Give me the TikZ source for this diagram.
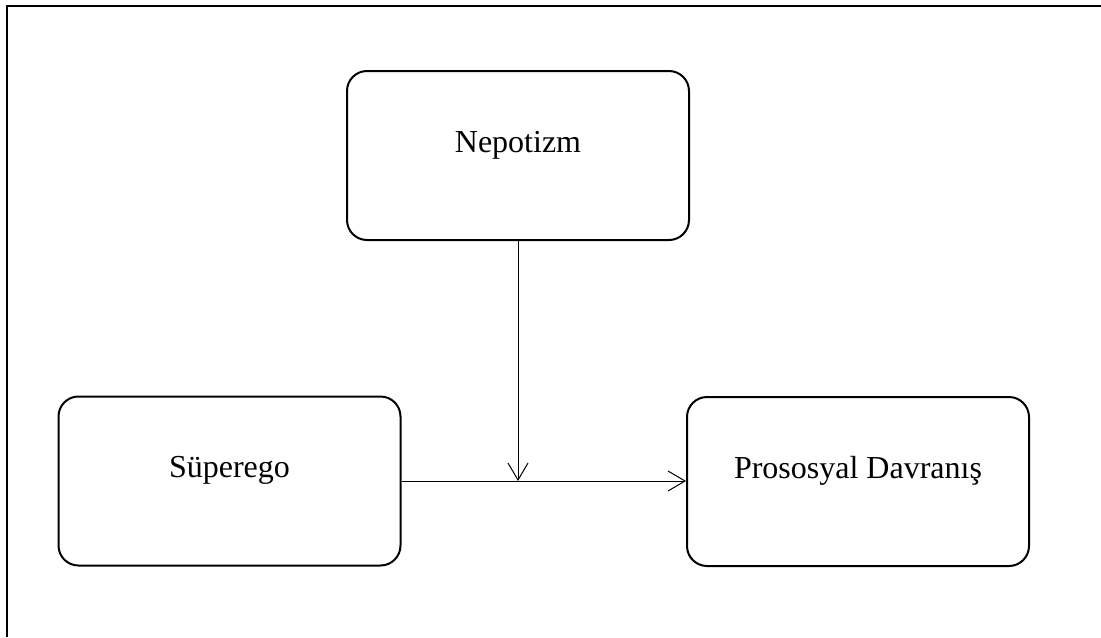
\documentclass[tikz,border=0pt]{standalone}
\usepackage{fontspec}
\setmainfont{Liberation Serif}
\usetikzlibrary{arrows.meta}

\begin{document}
\begin{tikzpicture}[x=0.75pt,y=-0.75pt,
    kutu/.style={draw, line width=1.5pt, rounded corners=15pt, minimum width=256.5pt, minimum height=126.75pt, text height=15pt, text depth=20pt, inner sep=0pt, font=\fontsize{24}{28}\selectfont},
    ok/.style={line width=0.75pt, -{Straight Barb[length=12.75pt, width=15pt, line width=0.75pt]}}]
    \useasboundingbox (0,0) rectangle (1101,637);
    % frame
    \draw[line width=1.5pt] (6.5,637) -- (6.5,5.5) -- (1101,5.5);

    \node[kutu] (nep) at (518,155.5) {Nepotizm};
    \node[kutu] (sup) at (229.5,481) {Süperego};
    \node[kutu] (pro) at (858,481.5) {Prososyal Davranış};

    \coordinate (M) at (nep.south |- sup.east);
    \draw[ok] (sup.east) -- (sup.east -| pro.west);
    \draw[ok] (nep.south) -- (M);
\end{tikzpicture}
\end{document}
